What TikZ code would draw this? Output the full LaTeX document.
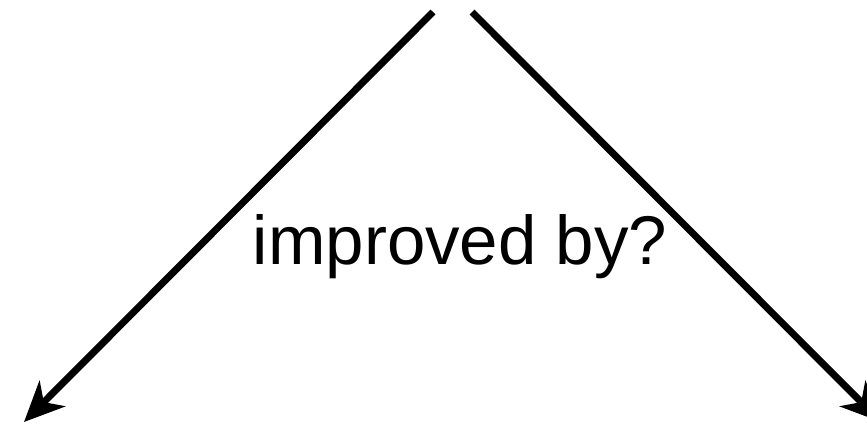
\documentclass[tikz,border=0pt]{standalone}
\usepackage{fontspec}
\setmainfont{Liberation Sans}
\usetikzlibrary{arrows.meta}
\begin{document}
\begin{tikzpicture}[x=1pt,y=-1pt,
  arr/.style={line width=7pt,-{Stealth[length=40pt,width=36pt,inset=12pt]}}]
\useasboundingbox (0,0) rectangle (867,424);
\coordinate (lt) at (433,12);
\coordinate (lb) at (24,422);
\coordinate (rt) at (472,12);
\coordinate (rb) at (881,422);
\draw[arr] (lt) -- (lb);
\draw[arr] (rt) -- (rb);
\node[anchor=base,inner sep=0pt,font=\fontsize{69}{82}\selectfont] (lbl) at (460,264) {improved by?};
\end{tikzpicture}
\end{document}
